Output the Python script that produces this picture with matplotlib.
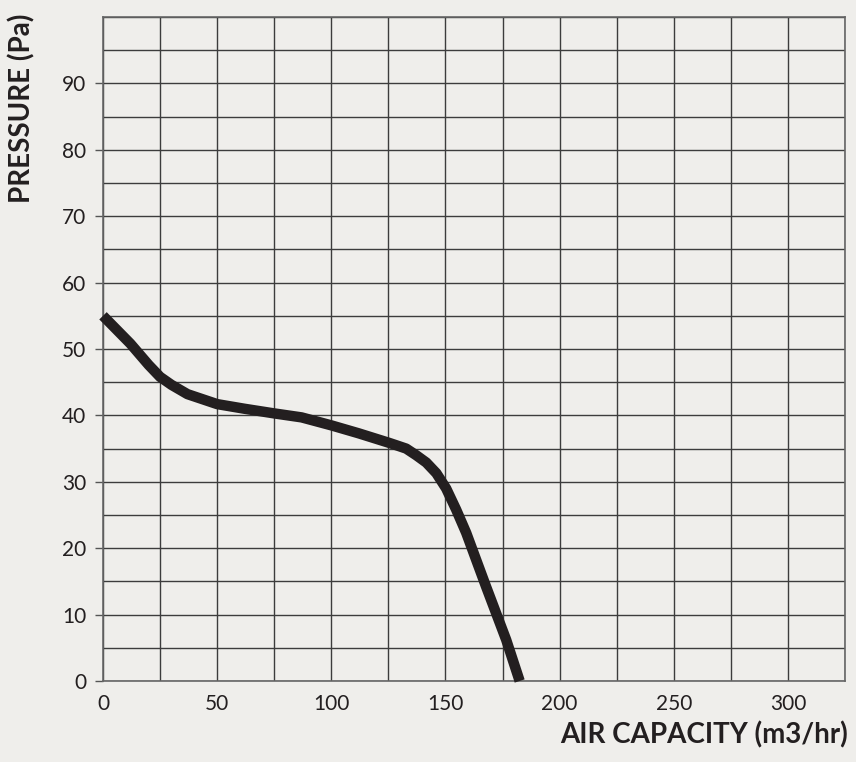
import numpy as np
import matplotlib.pyplot as plt
from matplotlib.ticker import MultipleLocator

# fan curve
air_capacity = [0, 12, 20, 25, 30, 37, 50, 62, 75, 87, 100, 112, 125, 128.5, 132.8, 137.2, 141.6,
                146, 150.3, 154.7, 159.1, 163.5, 167.8, 172.2, 176.6, 182.5]
pressure = [55, 50.8, 47.6, 45.8, 44.6, 43.2, 41.7, 41.0, 40.3, 39.7, 38.5, 37.3, 35.9, 35.5, 35.0, 34.0, 32.9,
            31.3, 29.0, 25.8, 22.3, 18.2, 14.2, 10.2, 6.2, 0]

x_ticks = [0, 50, 100, 150, 200, 250, 300]
y_ticks = [0, 10, 20, 30, 40, 50, 60, 70, 80, 90]

bg = '#efeeeb'
ink = '#231f20'
plt.rcParams['font.family'] = ['Lato', 'DejaVu Sans']

fig = plt.figure(figsize=(8.56, 7.62), dpi=100, facecolor=bg)
ax = fig.add_axes([103/856, 81/762, 742/856, 664/762], facecolor=bg)

ax.set_xlim(0, 325)
ax.set_ylim(0, 100)

ax.xaxis.set_minor_locator(MultipleLocator(25))
ax.yaxis.set_minor_locator(MultipleLocator(5))
ax.set_xticks(x_ticks)
ax.set_yticks(y_ticks)
ax.grid(which='both', color='#3c3c3c', linewidth=1.0)
ax.set_axisbelow(True)

ax.tick_params(axis='x', which='both', length=0, pad=9, labelsize=15, labelcolor=ink)
ax.tick_params(axis='y', which='major', length=6, width=1.0, color='#555555', pad=6,
               labelsize=15, labelcolor=ink)
ax.tick_params(axis='y', which='minor', length=0)

for s in ax.spines.values():
    s.set_color('#666666')
    s.set_linewidth(1.2)

ax.plot(air_capacity, pressure, color=ink, linewidth=7.5, solid_capstyle='butt',
        solid_joinstyle='round', zorder=5, clip_on=False)

fig.text(22/856, 1 - 108/762, 'PRESSURE (Pa)', rotation=90, ha='center', va='center',
         fontsize=20, fontweight='bold', color=ink)
fig.text(848/856, 1 - 735/762, 'AIR CAPACITY (m3/hr)', ha='right', va='center',
         fontsize=20, fontweight='bold', color=ink)

fig.savefig('out.png', dpi=100, facecolor=bg)
